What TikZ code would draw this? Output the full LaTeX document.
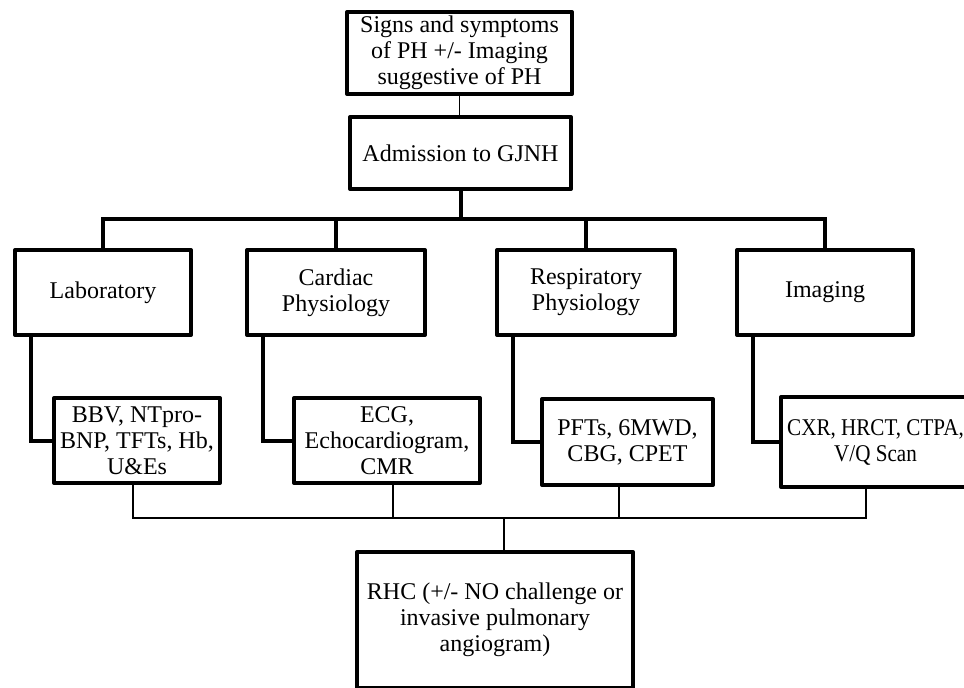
\documentclass[tikz,border=0pt]{standalone}
\usepackage{fontspec}
\setmainfont{Liberation Serif}
\newfontfamily\narrowserif[FakeStretch=0.88]{Liberation Serif}
\begin{document}
\begin{tikzpicture}[x=1pt, y=-1pt, line cap=butt,
    box/.style={draw, line width=4pt, line join=round, align=center, inner sep=1pt,
      font=\fontsize{24}{26}\selectfont},
    thickline/.style={line width=4pt},
    thinline/.style={line width=1.4pt}]
  \useasboundingbox (0,0) rectangle (964,688);

  % referral and admission
  \node[box, minimum width=225pt, minimum height=82pt] (sym) at (459.5,53)
    {Signs and symptoms\\of PH +/- Imaging\\suggestive of PH};
  \node[box, minimum width=221pt, minimum height=72pt] (adm) at (460.5,153)
    {Admission to GJNH};

  % the four work-up streams
  \node[box, minimum width=176pt, minimum height=85pt] (lab) at (103,292.5) {Laboratory};
  \node[box, minimum width=178pt, minimum height=85pt] (card) at (336,292.5) {Cardiac\\Physiology};
  \node[box, minimum width=178pt, minimum height=85pt] (resp) at (586,292.5) {Respiratory\\Physiology};
  \node[box, minimum width=176pt, minimum height=85pt] (img) at (825,292.5) {Imaging};

  % tests within each stream
  \node[box, minimum width=166pt, minimum height=85pt] (lab2) at (137,440.5)
    {BBV, NTpro-\\BNP, TFTs, Hb,\\U\&Es};
  \node[box, minimum width=186pt, minimum height=85pt] (card2) at (387,440.5)
    {ECG,\\Echocardiogram,\\CMR};
  \node[box, minimum width=171pt, minimum height=86pt] (resp2) at (627.5,442)
    {PFTs, 6MWD,\\CBG, CPET};
  \node[box, minimum width=189pt, minimum height=90pt, font=\narrowserif\fontsize{24}{26}\selectfont]
    (img2) at (875.5,442) {CXR, HRCT, CTPA,\\V/Q Scan};

  % right heart catheter
  \node[box, minimum width=276pt, minimum height=136pt] (rhc) at (495,620)
    {RHC (+/- NO challenge or\\invasive pulmonary\\angiogram)};

  % connectors at the top
  \coordinate (bar) at (461,219);
  \draw[thinline] (sym.south) -- (sym.south |- adm.north);
  \draw[thickline] (adm.south) -- (adm.south |- bar);
  \draw[thickline] (lab.north) |- (bar) -| (img.north);
  \draw[thickline] (card.north) -- (card.north |- bar);
  \draw[thickline] (resp.north) -- (resp.north |- bar);

  % side drops to the tests
  \draw[thickline] ([xshift=17.5pt]lab.south west) |- (lab2.west);
  \draw[thickline] ([xshift=17.5pt]card.south west) |- (card2.west);
  \draw[thickline] ([xshift=17.5pt]resp.south west) |- (resp2.west);
  \draw[thickline] ([xshift=17.5pt]img.south west) |- (img2.west);

  % joining the tests to RHC
  \coordinate (join) at (504,518);
  \draw[thinline] ([xshift=-4pt]lab2.south) |- (join) -| ([xshift=-9.5pt]img2.south);
  \draw[thinline] ([xshift=6pt]card2.south) -- ([xshift=6pt]card2.south |- join);
  \draw[thinline] ([xshift=-8.5pt]resp2.south) -- ([xshift=-8.5pt]resp2.south |- join);
  \draw[thinline] (join) -- (join |- rhc.north);
\end{tikzpicture}
\end{document}
